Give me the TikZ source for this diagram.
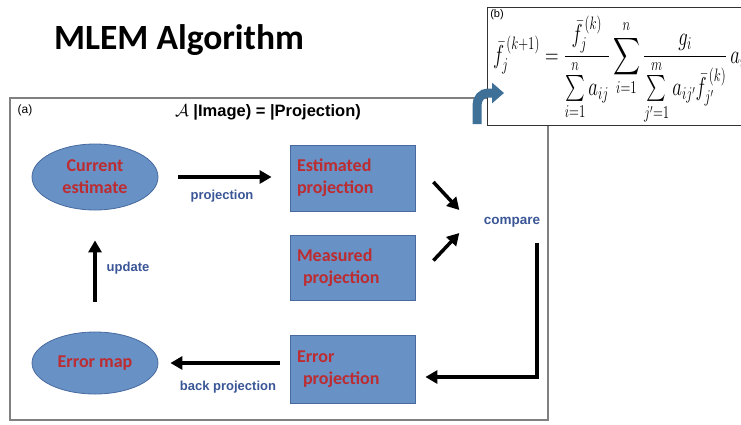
\documentclass[tikz,border=0pt]{standalone}
\usepackage{amsmath}
\usepackage{graphicx}
\usepackage{fontspec}
\setmainfont{Liberation Sans}
\newfontfamily\titlefont{Carlito}
\usepackage{tikz}
\usetikzlibrary{shapes, arrows.meta, positioning}
\definecolor{boxblue}{RGB}{104,145,198}
\definecolor{boxedge}{RGB}{72,106,158}
\definecolor{textred}{RGB}{188,44,48}
\definecolor{labelblue}{RGB}{58,86,150}
\definecolor{bentblue}{RGB}{62,112,152}
\definecolor{panelgray}{RGB}{128,128,128}
\tikzstyle{o}     = [draw=boxedge, fill=boxblue, ellipse, line width=0.8pt, text=textred, align=center, font=\titlefont\bfseries\fontsize{18}{22}\selectfont]
\tikzstyle{box}   = [draw=boxedge, fill=boxblue, rectangle, line width=0.8pt, text=textred, align=left, text width=111pt, inner xsep=7pt, font=\titlefont\bfseries\fontsize{18}{22}\selectfont]
\tikzstyle{arr}   = [draw, line width=3.5pt, -{Triangle[length=12pt, width=13pt]}]
\tikzstyle{lbl}   = [text=labelblue, font=\bfseries\fontsize{13}{15}\selectfont]
\tikzstyle{panel} = [draw=panelgray, line width=1.2pt, rectangle, inner sep=0pt]

\begin{document}
\begin{tikzpicture}[x=1pt, y=-1pt]
\useasboundingbox (0,0) rectangle (741,424);

% panels
\node [panel, minimum width=538pt, minimum height=322pt] at ( 279  , 259  ) (pa)    {};
\node [panel, draw=black!80, line width=1pt, fill=white, minimum width=262pt, minimum height=118pt] at ( 618 , 66 ) (pb) {};

% title and headers
\node [font=\titlefont\bfseries\fontsize{35.5}{38}\selectfont] at ( 179 , 40 ) (title) {MLEM Algorithm};
\node [font=\fontsize{12}{14}\selectfont] at ( 25 , 110 ) (taga) {(a)};
\node [font=\bfseries\fontsize{16.5}{19}\selectfont] at ( 268 , 112 ) (head) {$\mathcal{A}$ |Image) = |Projection)};
\node [font=\fontsize{11}{13}\selectfont, inner sep=1pt] at ( 497 , 15 ) (tagb) {(b)};

% formula
\node [anchor=west, inner sep=0pt] at ( 493 , 70 ) (eq)
  {\scalebox{0.9}[1.25]{\fontsize{20}{24}\selectfont $\displaystyle \bar{f}_j^{\,(k+1)} = \frac{\bar{f}_j^{\,(k)}}{\sum\limits_{i=1}^{n} a_{ij}} \sum_{i=1}^{n} \frac{g_i}{\sum\limits_{j'=1}^{m} a_{ij'}\bar{f}_{j'}^{\,(k)}}\, a_{ij}.$}};

% nodes
\node [o, minimum width=126pt, minimum height=66pt] at (  95  , 177  ) (cur)    {Current\\estimate};
\node [box, minimum height=66pt]                    at ( 352.5, 178  ) (est)    {Estimated\\projection};
\node [box, minimum height=65pt]                    at ( 352.5, 267.5) (meas)   {Measured\\\ projection};
\node [box, minimum height=68pt]                    at ( 352.5, 369  ) (errp)   {Error\\\ projection};
\node [o, minimum width=126pt, minimum height=62pt] at (  95  , 363  ) (errmap) {Error map};
\node [lbl, font=\bfseries\fontsize{13.5}{15}\selectfont] at ( 512 , 222 ) (cmp) {compare};

% labels
\node [lbl] at ( 222 , 196 ) (lproj)   {projection};
\node [lbl] at ( 128 , 268 ) (lupd)    {update};
\node [lbl] at ( 228 , 387 ) (lback)   {back projection};

% edges
\path [arr] ([xshift=20pt]cur.east)            -- ([xshift=-18pt]est.west |- cur.east);
\path [arr] ([shift={(18pt,-4pt)}]est.east)    -- ([shift={(-21pt,12pt)}]cmp.west);
\path [arr] ([shift={(18pt,7pt)}]meas.east)    -- ([shift={(-21pt,-11pt)}]cmp.west);
\path [arr] ([shift={(25pt,-12pt)}]cmp.south)  |- ([shift={(10pt,-8pt)}]errp.east);
\path [arr] ([xshift=-10pt]errp.west |- errmap.east) -- ([xshift=12pt]errmap.east);
\path [arr] ([yshift=30pt]errmap.north)        -- ([yshift=-30pt]cur.south);

% bent arrow into (b)
\draw [bentblue, line width=9pt, -{Triangle[length=12pt, width=20pt]}] (477,124) -- (477,105) to[out=90, in=180] (488,93) -- (504,93);

\end{tikzpicture}
\end{document}
